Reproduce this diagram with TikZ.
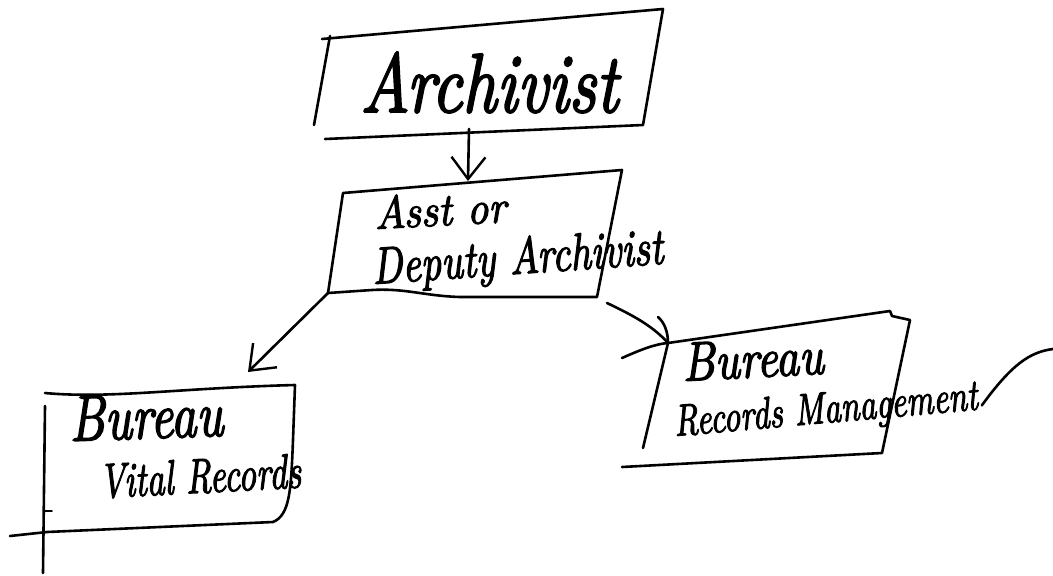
\documentclass[tikz,border=0pt]{standalone}
\usepackage{fontspec}
\newfontfamily\handfont{lmroman10-italic.otf}[FakeBold=2.5]
\usetikzlibrary{arrows.meta}
\newcommand\tallhand[2]{\scalebox{1}[#1]{#2}}
\begin{document}
\begin{tikzpicture}[x=1pt,y=-1pt,
  ink/.style={draw=black, line width=2.6pt, line cap=round, line join=round},
  barb/.style={ink, -{Straight Barb[length=22pt,width=34pt,line width=2.4pt]}},
  hand/.style={inner sep=0pt, anchor=base west}]
\useasboundingbox (0,0) rectangle (1053,576);

% ---------- Archivist box ----------
\draw[ink] (322,39) -- (663,9) -- (643,125) -- (325,139);
\draw[ink] (330,36) -- (314,125);
\node[hand, font=\fontsize{67}{67}\handfont] (archivist) at (360,112) {\tallhand{1.25}{Archivist}};
\coordinate (archB) at (469,129);

% ---------- Deputy box ----------
\draw[ink] (343,193) -- (622,170) -- (597,297) -- (460,297)
  .. controls (425,296) and (405,288) .. (372,290) -- (328,293) -- cycle;
\node[hand, rotate=3, font=\fontsize{42}{42}\handfont] (asst) at (375,229) {\tallhand{1.1}{Asst or}};
\node[hand, rotate=4, font=\fontsize{40}{40}\handfont] (deputy) at (373,284) {\tallhand{1.3}{Deputy Archivist}};
\coordinate (depT) at (468,181);
\coordinate (depBL) at (328,293);
\coordinate (depBR) at (607,303);

% ---------- Bureau Vital Records box ----------
\draw[ink] (45,393) .. controls (110,399) and (180,388) .. (295,385)
  -- (293,440) .. controls (291,490) and (290,515) .. (273,522)
  -- (47,532) -- (10,536);
\draw[ink] (45,406) -- (43,573);
\draw[ink, line width=1.6pt] (45,511) -- (52,511);
\node[hand, rotate=2, font=\fontsize{50}{50}\handfont] (bvr1) at (70,441) {\tallhand{1.3}{Bureau}};
\node[hand, rotate=3, font=\fontsize{35}{35}\handfont] (bvr2) at (100,498) {\tallhand{1.4}{Vital Records}};
\coordinate (vitT) at (248,372);

% ---------- Bureau Records Management box ----------
\coordinate (recT) at (668,343);
\draw[ink] (622,358) .. controls (640,350) and (655,344) .. (recT)
  -- (890,311) -- (892,316) -- (910,320) -- (882,453) -- (622,467);
\draw[ink] (recT) -- (643,448);
\node[hand, rotate=3, font=\fontsize{46}{46}\handfont] (brm1) at (683,381) {\tallhand{1.2}{Bureau}};
\node[hand, rotate=5, font=\fontsize{33}{33}\handfont] (brm2) at (675,436) {\tallhand{1.35}{Records Management}};
\draw[ink] ([shift={(3,-4)}]brm2.base east) .. controls (1012,364) and (1030,352) .. (1053,349);

% ---------- connectors ----------
\draw[barb] (archB) -- (depT);
\draw[barb] (depBL) -- (vitT);
\draw[ink] (depBR) .. controls (630,314) and (652,325) .. (recT);
\draw[ink] ([shift={(-10,-26)}]recT) .. controls ([shift={(-3,-20)}]recT) and ([shift={(0,-10)}]recT) .. (recT);
\end{tikzpicture}
\end{document}
